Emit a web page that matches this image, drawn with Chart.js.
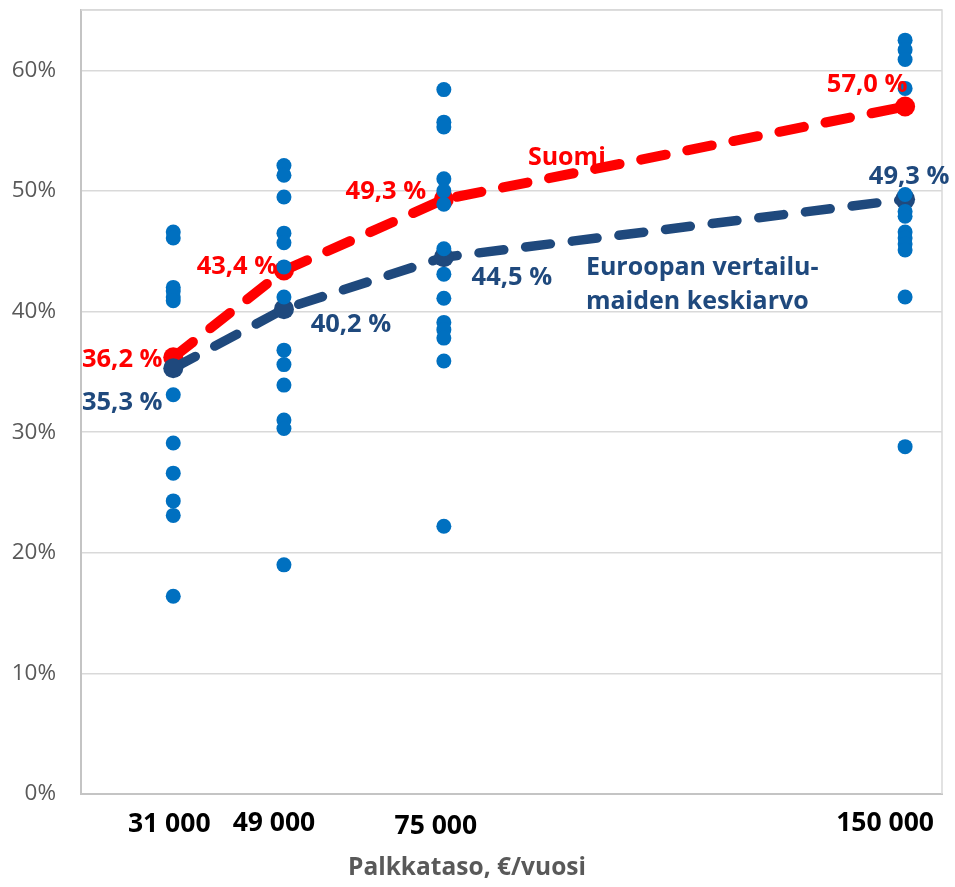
<!DOCTYPE html>
<html lang="fi">
<head>
<meta charset="utf-8">
<title>Rajaveroaste palkkatason mukaan</title>
<script src="https://cdn.jsdelivr.net/npm/chart.js@4"></script>
<style>
  html, body { margin: 0; padding: 0; background: #ffffff; }
  #wrap { width: 955px; height: 887px; }
</style>
</head>
<body>
<div id="wrap"><canvas id="chart" width="955" height="887"></canvas></div>
<script>
// Salary levels (€/year) on the x axis
const salaryLevels = [31000, 49000, 75000, 150000];
const salaryTickLabels = ['31 000', '49 000', '75 000', '150 000'];

// Individual comparison countries, % at each salary level
const rates31000 = [46.6, 46.1, 42.0, 41.7, 41.2, 40.9, 33.1, 29.1, 26.6, 24.3, 23.1, 16.4];
const rates49000 = [52.1, 51.3, 49.5, 46.5, 45.7, 43.7, 41.2, 36.8, 35.6, 33.9, 31.0, 30.3, 19.0];
const rates75000 = [58.4, 55.7, 55.3, 51.0, 50.0, 48.9, 45.2, 43.1, 41.1, 39.1, 38.5, 37.8, 35.9, 22.2];
const rates150000 = [62.5, 61.7, 60.9, 58.5, 49.7, 48.3, 47.9, 46.6, 46.1, 45.6, 45.1, 41.2, 28.8];

// Finland and the European comparison-country average
const finlandRates = [36.2, 43.4, 49.3, 57.0];
const europeAvgRates = [35.3, 40.2, 44.5, 49.3];

// Y axis tick values (%)
const yTickValues = [0, 10, 20, 30, 40, 50, 60];

const FONT = "'Open Sans', 'Noto Sans', sans-serif";
const RED = '#ff0000';
const NAVY = '#1f497d';
const DOT = '#0070c0';

const countryColumns = [rates31000, rates49000, rates75000, rates150000];
const countryPoints = [];
countryColumns.forEach((col, i) => col.forEach(v => countryPoints.push({ x: salaryLevels[i], y: v })));
const finlandPoints = salaryLevels.map((s, i) => ({ x: s, y: finlandRates[i] }));
const europePoints = salaryLevels.map((s, i) => ({ x: s, y: europeAvgRates[i] }));

// Label placement relative to each marker (pixels, label centre)
const finlandLabelShift = [[-51, 2], [-47, -4], [-58, -8], [-38, -22]];
const europeLabelShift = [[-51, 35], [67, 16], [68, 20], [4, -23]];
const xLabelShift = [[-4, 30], [-10, 29], [-8, 32], [-20, 29]];

const fmtPct = v => v.toFixed(1).replace('.', ',') + ' %';

const overlay = {
  id: 'overlay',
  beforeDatasetsDraw(chart) {
    const { ctx, chartArea: a } = chart;
    ctx.save();
    ctx.strokeStyle = '#d9d9d9';
    ctx.lineWidth = 1.5;
    ctx.beginPath();
    ctx.moveTo(a.left, a.top);
    ctx.lineTo(a.right, a.top);
    ctx.lineTo(a.right, a.bottom);
    ctx.stroke();
    ctx.restore();
  },
  afterDatasetsDraw(chart) {
    const { ctx, chartArea: a, scales: { x, y } } = chart;
    ctx.save();
    ctx.textAlign = 'center';
    ctx.textBaseline = 'middle';

    // value labels
    ctx.font = 'bold 25.5px ' + FONT;
    ctx.fillStyle = RED;
    finlandRates.forEach((v, i) => {
      const [dx, dy] = finlandLabelShift[i];
      ctx.fillText(fmtPct(v), x.getPixelForValue(salaryLevels[i]) + dx, y.getPixelForValue(v) + dy);
    });
    ctx.fillStyle = NAVY;
    europeAvgRates.forEach((v, i) => {
      const [dx, dy] = europeLabelShift[i];
      ctx.fillText(fmtPct(v), x.getPixelForValue(salaryLevels[i]) + dx, y.getPixelForValue(v) + dy);
    });

    // series names
    ctx.font = 'bold 25px ' + FONT;
    ctx.fillStyle = RED;
    ctx.fillText('Suomi', x.getPixelForValue(95000), y.getPixelForValue(52.7));
    ctx.fillStyle = NAVY;
    ctx.textAlign = 'left';
    const ex = x.getPixelForValue(98100);
    const ey = y.getPixelForValue(43.6);
    ctx.fillText('Euroopan vertailu-', ex, ey);
    ctx.fillText('maiden keskiarvo', ex, ey + 34);

    // x axis labels
    ctx.textAlign = 'center';
    ctx.fillStyle = '#000000';
    ctx.font = 'bold 26.5px ' + FONT;
    salaryLevels.forEach((s, i) => {
      const [dx, dy] = xLabelShift[i];
      ctx.fillText(salaryTickLabels[i], x.getPixelForValue(s) + dx, a.bottom + dy);
    });

    // x axis title
    ctx.fillStyle = '#595959';
    ctx.font = 'bold 24.5px ' + FONT;
    ctx.fillText('Palkkataso, €/vuosi', 467, a.bottom + 74);
    ctx.restore();
  }
};

new Chart(document.getElementById('chart'), {
  type: 'scatter',
  data: {
    datasets: [
      {
        label: 'Vertailumaat',
        data: countryPoints,
        backgroundColor: DOT,
        borderColor: DOT,
        borderWidth: 0,
        pointRadius: 7.5,
        showLine: false
      },
      {
        label: 'Euroopan vertailumaiden keskiarvo',
        data: europePoints,
        showLine: true,
        borderColor: NAVY,
        borderWidth: 9.5,
        borderDash: [25, 22],
        borderCapStyle: 'round',
        tension: 0,
        pointRadius: 10,
        pointBackgroundColor: NAVY,
        pointBorderWidth: 0
      },
      {
        label: 'Suomi',
        data: finlandPoints,
        showLine: true,
        borderColor: RED,
        borderWidth: 10,
        borderDash: [25, 22],
        borderCapStyle: 'round',
        tension: 0,
        pointRadius: 10,
        pointBackgroundColor: RED,
        pointBorderWidth: 0
      }
    ]
  },
  options: {
    responsive: false,
    animation: false,
    layout: { padding: { top: 8, right: 13, left: 0, bottom: 0 } },
    plugins: { legend: { display: false }, tooltip: { enabled: false } },
    scales: {
      x: {
        type: 'linear',
        min: 16000,
        max: 156000,
        ticks: { display: false },
        grid: { display: false },
        border: { display: true, color: '#c4c4c4', width: 2 },
        afterFit(scale) { scale.height = 93; scale.paddingLeft = 0; scale.paddingRight = 0; }
      },
      y: {
        min: 0,
        max: 65,
        afterBuildTicks(scale) {
          scale.ticks = yTickValues.concat([65]).map(v => ({ value: v }));
        },
        ticks: {
          padding: 25,
          color: '#595959',
          font: { family: FONT, size: 22.5 },
          callback: v => (yTickValues.includes(v) ? v + '%' : '')
        },
        grid: { color: '#d9d9d9', lineWidth: 1.5, drawTicks: false },
        border: { display: true, color: '#c4c4c4', width: 2 },
        afterFit(scale) { scale.width = 81; scale.paddingTop = 0; scale.paddingBottom = 0; }
      }
    }
  },
  plugins: [overlay]
});
</script>
</body>
</html>
